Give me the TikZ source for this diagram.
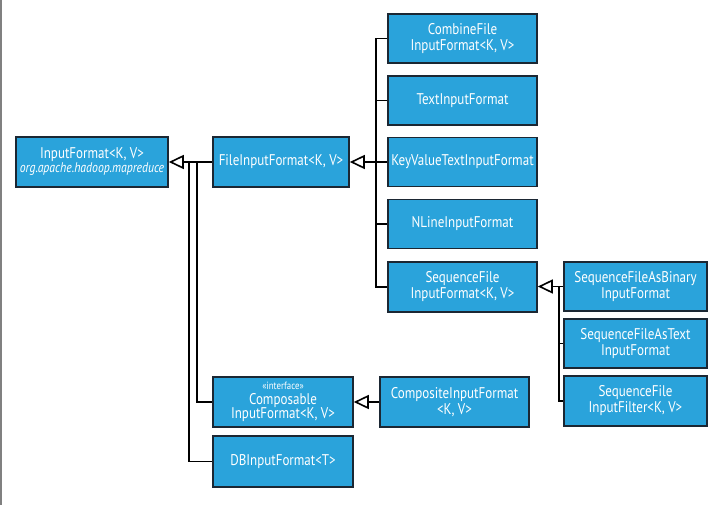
\documentclass[tikz,border=0pt]{standalone}
\usepackage{fontspec}
\setmainfont{PT Sans}[FakeStretch=0.84]
\usetikzlibrary{arrows.meta}
\definecolor{boxblue}{HTML}{2AA3DB}
\definecolor{boxline}{HTML}{1B2733}
\begin{document}
\begin{tikzpicture}[x=1pt,y=-1pt,
  cls/.style={rectangle,draw=boxline,fill=boxblue,line width=1.6pt,text=white,align=center,inner sep=0pt,minimum height=49pt,font=\fontsize{15.5}{16}\selectfont},
  inh/.style={-{Triangle[open,length=15pt,width=14pt]},line width=1.6pt},
  tie/.style={line width=1.6pt}]
\useasboundingbox (0,0) rectangle (723,505);
\draw[gray,line width=1.5pt] (0.75,0) -- (0.75,505);

\node[cls,minimum width=152pt,minimum height=50pt] at (92,162) (inf) {InputFormat<K, V>\\[-2pt]{\fontsize{14}{14}\itshape org.apache.hadoop.mapreduce}};
\node[cls,minimum width=136pt,minimum height=50pt] at (281,162) (fif) {FileInputFormat<K, V>};
\node[cls,minimum width=149pt] at (462.5,38.5) (comb) {CombineFile\\InputFormat<K, V>};
\node[cls,minimum width=149pt] at (462.5,100.5) (txt) {TextInputFormat};
\node[cls,minimum width=149pt] at (462.5,162) (kv) {KeyValueTextInputFormat};
\node[cls,minimum width=149pt] at (462.5,224) (nline) {NLineInputFormat};
\node[cls,minimum width=149pt,minimum height=50pt] at (462.5,287) (seqf) {SequenceFile\\InputFormat<K, V>};
\node[cls,minimum width=143pt] at (635.5,286.5) (sbin) {SequenceFileAsBinary\\InputFormat};
\node[cls,minimum width=143pt] at (635.5,343.5) (stxt) {SequenceFileAsText\\InputFormat};
\node[cls,minimum width=143pt,minimum height=50pt] at (635.5,401) (sfilt) {SequenceFile\\InputFilter<K, V>};
\node[cls,minimum width=140pt,minimum height=50pt] at (283,402) (comp) {{\fontsize{10.5}{10}\selectfont «interface»}\\[-1pt]Composable\\[-2pt]InputFormat<K, V>};
\node[cls,minimum width=140pt,minimum height=51pt] at (283,461.5) (db) {DBInputFormat<T>};
\node[cls,minimum width=149pt,minimum height=50pt] at (454.5,402) (cmpst) {CompositeInputFormat\\<K, V>};

\coordinate (j1) at (197,162);
\coordinate (j2) at (189,162);
\coordinate (t1) at (376,162);
\coordinate (t2) at (559,287);

\draw[inh] (fif) -- (inf);
\draw[tie] (comp.west) -| (j1);
\draw[tie] (db.west) -| (j2);
\draw[inh] (kv) -- (fif);
\draw[tie] (comb.west) -| (t1);
\draw[tie] (txt.west) -| (t1);
\draw[tie] (nline.west) -| (t1);
\draw[tie] (seqf.west) -| (t1);
\draw[inh] (sbin.west) -- (seqf.east |- sbin.west);
\draw[tie] (stxt.west) -| (t2);
\draw[tie] (sfilt.west) -| (t2);
\draw[inh] (cmpst) -- (comp);
\end{tikzpicture}
\end{document}
